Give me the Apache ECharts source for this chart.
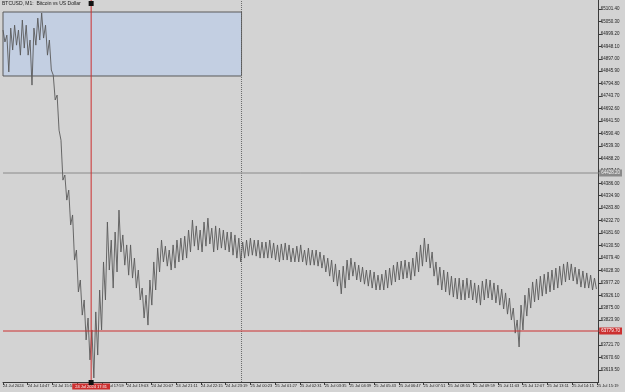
<!DOCTYPE html>
<html><head><meta charset="utf-8">
<script src="https://cdn.jsdelivr.net/npm/echarts@6/dist/echarts.min.js"></script>
<style>html,body{margin:0;padding:0;background:#d3d3d3;overflow:hidden}#c{width:625px;height:392px}</style>
</head><body><div id="c"></div>
<script>
const chartTitle = 'BTCUSD, M1:  Bitcoin vs US Dollar';
// time axis: minutes since first bar (24 Jul 13:43)
const xTickMinutes = [0,64,128,192,256,320,384,448,512,576,640,704,768,832,896,960,1024,1088,1152,1216,1280,1344,1408,1472,1536];
const xTickLabels = ['24 Jul 2024','24 Jul 14:47','24 Jul 15:51','24 Jul 16:55','24 Jul 17:59','24 Jul 19:03','24 Jul 20:07','24 Jul 21:11','24 Jul 22:15','24 Jul 23:19','25 Jul 00:23','25 Jul 01:27','25 Jul 02:31','25 Jul 03:35','25 Jul 04:39','25 Jul 05:43','25 Jul 06:47','25 Jul 07:51','25 Jul 08:55','25 Jul 09:59','25 Jul 11:03','25 Jul 12:07','25 Jul 13:11','25 Jul 14:15','25 Jul 15:19'];
const yTickValues = [63619.50,63670.60,63721.70,63772.80,63823.90,63875.00,63926.10,63977.20,64028.30,64079.40,64130.50,64181.60,64232.70,64283.80,64334.90,64386.00,64437.10,64488.20,64539.30,64590.40,64641.50,64692.60,64743.70,64794.80,64845.90,64897.00,64948.10,64999.20,65050.30,65101.40];
const sampleStepMin = 10;
const highs = [65015,64994,65023,65035,65015,65056,65035,64974,65023,65064,65085,65035,64974,64830,64748,64563,64420,64358,64256,64112,63989,63907,63833,63784,63858,63948,64063,64227,64153,64186,64276,64174,64133,64133,64079,64030,63956,63927,63989,64063,64120,64153,64128,64112,64133,64153,64161,64169,64194,64235,64211,64194,64227,64243,64202,64211,64202,64194,64186,64186,64174,64161,64145,64153,64161,64153,64153,64145,64145,64153,64141,64133,64137,64141,64133,64120,64128,64133,64112,64120,64112,64112,64104,64091,64079,64071,64055,64030,64046,64071,64079,64063,64050,64042,64030,64030,64022,64009,64013,64030,64038,64050,64063,64067,64071,64063,64079,64104,64133,64161,64137,64104,64063,64042,64030,64022,64005,63997,63997,63989,63997,63989,63977,63968,63985,63993,63989,63977,63968,63952,63936,63915,63874,63825,63886,63927,63956,63981,63993,64005,64013,64022,64030,64038,64046,64055,64063,64055,64042,64034,64026,64018,64009,63997];
const lows = [64966,64843,64933,64953,64912,64941,64912,64789,64953,64974,64982,64912,64851,64728,64604,64399,64317,64215,64071,63940,63845,63743,63661,63587,63681,63784,63907,64030,63956,64022,64104,64050,64009,63997,63956,63907,63833,63804,63886,63948,64022,64063,64046,64030,64038,64063,64071,64079,64104,64128,64112,64104,64128,64137,64104,64112,64120,64112,64104,64091,64079,64063,64079,64087,64091,64087,64079,64079,64079,64079,64071,64063,64071,64071,64063,64063,64063,64063,64050,64050,64050,64046,64038,64022,64005,63981,63964,63932,63956,63989,64005,63989,63981,63972,63964,63956,63948,63948,63948,63956,63968,63981,63989,63993,63997,63989,64005,64022,64046,64063,64038,64005,63968,63948,63940,63927,63919,63911,63907,63907,63915,63907,63895,63886,63907,63915,63907,63895,63886,63870,63849,63825,63771,63714,63784,63841,63874,63899,63907,63923,63932,63940,63948,63956,63968,63981,63989,63985,63972,63960,63956,63956,63948,63952];
const bidPrice = 64428.20;
const crossPrice = 63779.70;
const crossMinute = 228;
const crossLabel = '24 Jul 2024 17:31';
const daySeparatorMinute = 617;
const zoneFromMin = 0, zoneToMin = 617, zoneHigh = 65089.0, zoneLow = 64826.4;
const yMin = 63570.4, yMax = 65138.3, xMax = 1541;

const pathData = [];
for (let i = 0; i < highs.length; i++) {
  const t = i * sampleStepMin;
  pathData.push([t, highs[i]]);
  pathData.push([t + sampleStepMin / 2, lows[i]]);
}

const FONT = 'Liberation Sans, Arial, sans-serif';
const RED = '#cc3030';
const AXIS = '#3a3a3a';
function guide(data, color, z, dash) {
  return {type: 'line', data: data, z: z, silent: true, showSymbol: false, symbol: 'none', color: color,
    lineStyle: {color: color, width: 1, type: dash || 'solid'}};
}
const chart = echarts.init(document.getElementById('c'), null, {renderer: 'canvas'});
chart.setOption({
  animation: false,
  backgroundColor: '#d3d3d3',
  title: {text: chartTitle, left: 2, top: 1, padding: 0,
    textStyle: {fontSize: 5, fontWeight: 'normal', color: '#1a1a1a', fontFamily: FONT}},
  grid: {left: 0, right: 23, top: 0, bottom: 10, containLabel: false},
  xAxis: [
    {type: 'value', min: 0, max: xMax, position: 'bottom',
      axisLine: {show: true, onZero: false, lineStyle: {color: AXIS, width: 1}},
      axisTick: {show: true, customValues: xTickMinutes, length: 3, lineStyle: {color: AXIS}},
      axisLabel: {customValues: xTickMinutes, fontSize: 4, color: '#222', align: 'left', margin: 2, fontFamily: FONT,
        formatter: v => xTickLabels[xTickMinutes.indexOf(v)] || ''},
      splitLine: {show: false}},
    {type: 'value', min: 0, max: xMax, position: 'bottom',
      axisLine: {show: false, onZero: false}, axisTick: {show: false}, splitLine: {show: false},
      axisLabel: {customValues: [crossMinute], fontSize: 4, color: '#fff', backgroundColor: RED, padding: [1, 3],
        align: 'center', margin: 1.5, fontFamily: FONT, formatter: () => crossLabel}}
  ],
  yAxis: [
    {type: 'value', position: 'right', min: yMin, max: yMax,
      axisLine: {show: true, onZero: false, lineStyle: {color: AXIS, width: 1}},
      axisTick: {show: true, customValues: yTickValues, length: 3, lineStyle: {color: AXIS}},
      axisLabel: {customValues: yTickValues, fontSize: 4.5, color: '#222', margin: 2, fontFamily: FONT,
        formatter: v => v.toFixed(2)},
      splitLine: {show: false}},
    {type: 'value', position: 'right', min: yMin, max: yMax,
      axisLine: {show: false, onZero: false}, axisTick: {show: false}, splitLine: {show: false},
      axisLabel: {customValues: [bidPrice, crossPrice], fontSize: 4.5, margin: 0.5, fontFamily: FONT,
        formatter: v => (v === crossPrice ? '{r|' : '{b|') + v.toFixed(2) + '}',
        rich: {r: {backgroundColor: RED, color: '#fff', padding: [1, 2], fontSize: 4.5, fontFamily: FONT},
               b: {backgroundColor: '#8a8a8a', color: '#f2f2f2', padding: [1, 2], fontSize: 4.5, fontFamily: FONT}}}}
  ],
  series: [
    {type: 'line', data: pathData, showSymbol: false, symbol: 'none', z: 3, silent: true,
      lineStyle: {color: '#5a5a5a', width: 0.9},
      markArea: {silent: true,
        itemStyle: {color: '#c3cfe2', borderColor: '#5a5a5a', borderWidth: 1},
        data: [[{xAxis: zoneFromMin, yAxis: zoneHigh}, {xAxis: zoneToMin, yAxis: zoneLow}]]}},
    guide([[daySeparatorMinute, yMin], [daySeparatorMinute, yMax]], '#6a6a6a', 2, [1, 1]),
    guide([[0, bidPrice], [xMax, bidPrice]], '#8a8a8a', 2),
    guide([[0, crossPrice], [xMax, crossPrice]], RED, 5),
    guide([[crossMinute, yMin], [crossMinute, yMax]], RED, 5),
    {type: 'line', data: [], xAxisIndex: 1, yAxisIndex: 1, silent: true}
  ]
});
const px = chart.convertToPixel({xAxisIndex: 0, yAxisIndex: 0}, [crossMinute, yMax]);
const pb = chart.convertToPixel({xAxisIndex: 0, yAxisIndex: 0}, [crossMinute, yMin]);
chart.setOption({graphic: [
  {type: 'rect', shape: {x: px[0] - 2.5, y: px[1] + 1, width: 5, height: 5}, style: {fill: '#111'}, z: 100},
  {type: 'rect', shape: {x: pb[0] - 2.5, y: pb[1] - 2, width: 5, height: 5}, style: {fill: '#111'}, z: 100}
]});
</script></body></html>
